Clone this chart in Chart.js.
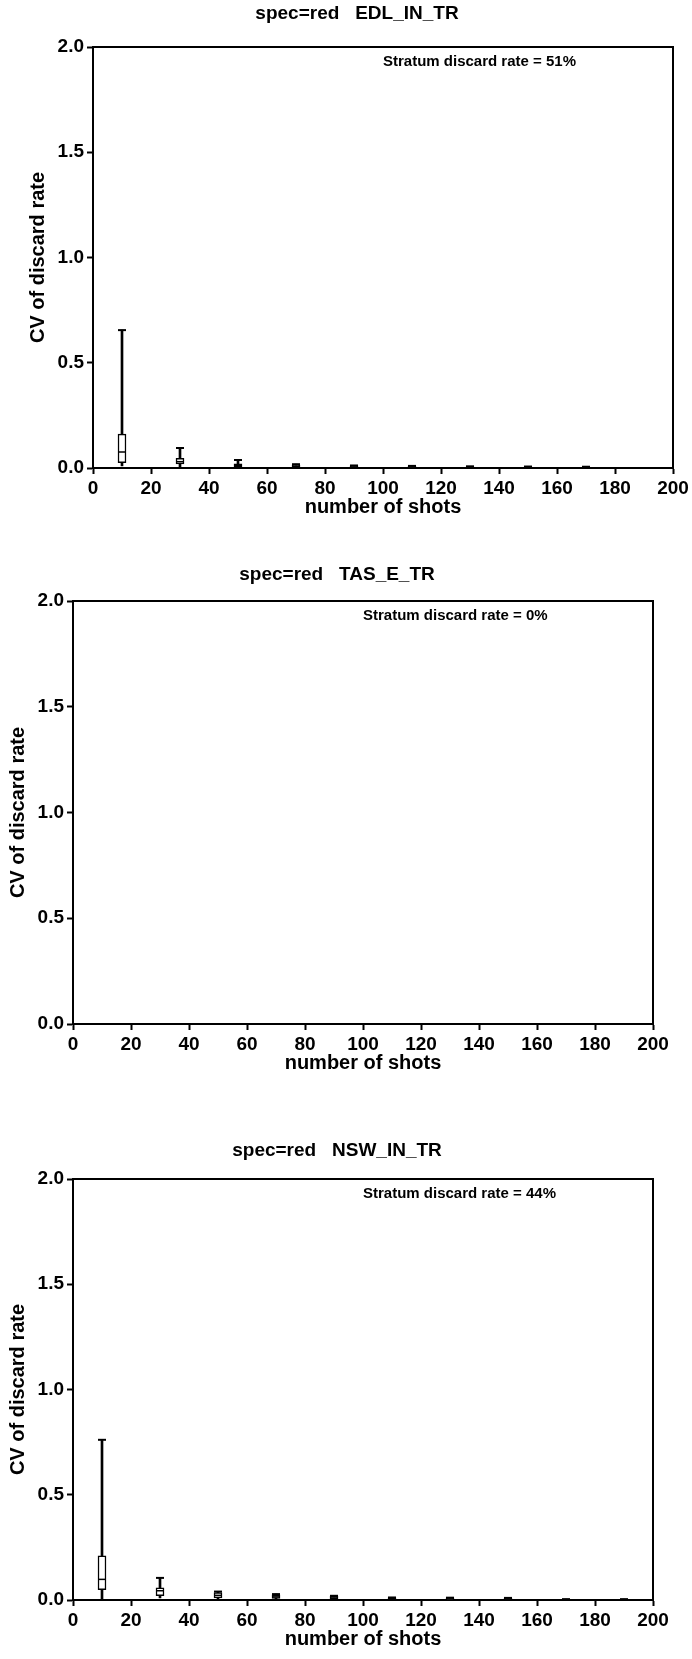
<!DOCTYPE html>
<html>
<head>
<meta charset="utf-8">
<title>CV of discard rate vs number of shots</title>
<script src="https://cdn.jsdelivr.net/npm/chart.js@4.4.1/dist/chart.umd.min.js"></script>
<style>
  html, body { margin: 0; padding: 0; background: #fff; }
  body { width: 692px; height: 1659px; position: relative; overflow: hidden; }
  .panel { position: absolute; left: 0; }
</style>
</head>
<body>
<canvas id="chartEDL" class="panel" width="692" height="530" style="top:0px"></canvas>
<canvas id="chartTAS" class="panel" width="692" height="540" style="top:540px"></canvas>
<canvas id="chartNSW" class="panel" width="692" height="539" style="top:1120px"></canvas>
<script>
// axis ticks shared by all three panels
const xTicks = [0, 20, 40, 60, 80, 100, 120, 140, 160, 180, 200];
const yTicks = [0, 0.5, 1.0, 1.5, 2.0];

// EDL_IN_TR: box plot summary of the CV per sample size
const edlShots  = [10, 30, 50, 70, 90, 110, 130, 150, 170];
const edlMin    = [0.010, 0.005, 0.000, 0.000, 0.000, 0.000, 0.000, 0.000, 0.000];
const edlQ1     = [0.025, 0.019, 0.005, 0.004, 0.002, 0.002, 0.001, 0.001, 0.001];
const edlMedian = [0.076, 0.030, 0.012, 0.008, 0.005, 0.004, 0.003, 0.002, 0.002];
const edlQ3     = [0.161, 0.046, 0.020, 0.014, 0.010, 0.008, 0.006, 0.005, 0.004];
const edlMax    = [0.655, 0.095, 0.038, 0.018, 0.012, 0.010, 0.008, 0.007, 0.006];
const edlRate   = 51;

// TAS_E_TR: no discards, CV collapses to zero
const tasShots  = [10];
const tasMin    = [0];
const tasQ1     = [0];
const tasMedian = [0];
const tasQ3     = [0];
const tasMax    = [0];
const tasRate   = 0;

// NSW_IN_TR
const nswShots  = [10, 30, 50, 70, 90, 110, 130, 150, 170, 190];
const nswMin    = [0.005, 0.010, 0.003, 0.002, 0.001, 0.001, 0.001, 0.000, 0.000, 0.000];
const nswQ1     = [0.049, 0.020, 0.010, 0.007, 0.004, 0.003, 0.002, 0.002, 0.001, 0.001];
const nswMedian = [0.098, 0.044, 0.022, 0.015, 0.010, 0.006, 0.005, 0.004, 0.002, 0.002];
const nswQ3     = [0.210, 0.058, 0.035, 0.025, 0.018, 0.010, 0.009, 0.008, 0.003, 0.003];
const nswMax    = [0.761, 0.105, 0.040, 0.028, 0.020, 0.012, 0.011, 0.010, 0.004, 0.004];
const nswRate   = 44;

// where the stratum note sits, in data units
const noteX = 100;
const noteY = 1.93;

const FONT = '"Liberation Sans", Arial, Helvetica, sans-serif';
Chart.defaults.font.family = FONT;
Chart.defaults.color = '#000';

// frame, panel heading and discard-rate note
const panelDecor = {
    id: 'panelDecor',
    afterDraw(chart, args, opts) {
        const { ctx, chartArea: a, scales } = chart;
        ctx.save();
        ctx.strokeStyle = '#000';
        ctx.lineWidth = 2;
        ctx.beginPath();
        ctx.moveTo(a.left - 1, a.top);
        ctx.lineTo(a.right, a.top);
        ctx.lineTo(a.right, a.bottom + 1);
        ctx.stroke();

        ctx.fillStyle = '#000';
        ctx.textBaseline = 'middle';
        ctx.font = 'bold 19px ' + FONT;
        ctx.textAlign = 'center';
        ctx.fillText(opts.heading, (a.left + a.right) / 2 - 26, opts.headingY);

        ctx.font = 'bold 15px ' + FONT;
        ctx.textAlign = 'left';
        ctx.fillText('Stratum discard rate = ' + opts.rate + '%',
            scales.x.getPixelForValue(noteX), scales.y.getPixelForValue(noteY));
        ctx.restore();
    }
};

function boxDatasets(shots, mins, q1s, medians, q3s, maxs) {
    const boxes = shots.map((s, i) => ({ x: s, y: [q1s[i], q3s[i]] }));
    const whiskers = shots.map((s, i) => ({ x: s, y: [mins[i], maxs[i]] }));
    const mids = shots.map((s, i) => ({ x: s, y: medians[i] }));
    const caps = shots.map((s, i) => ({ x: s, y: maxs[i] }));
    return [
        {
            type: 'bar', data: boxes, order: 1, grouped: false,
            backgroundColor: '#fff', borderColor: '#000', borderWidth: 1.5,
            borderSkipped: false, barThickness: 8, clip: false
        },
        {
            type: 'bar', data: whiskers, order: 2, grouped: false,
            backgroundColor: '#000', borderWidth: 0, barThickness: 2, clip: false
        },
        {
            type: 'scatter', data: mids, order: 0,
            pointStyle: 'line', pointRadius: 4, borderColor: '#000', borderWidth: 1.5, clip: false
        },
        {
            type: 'scatter', data: caps, order: 0,
            pointStyle: 'line', pointRadius: 4, borderColor: '#000', borderWidth: 2, clip: false
        }
    ];
}

function renderPanel(id, heading, headingY, rate, datasets, pad, yAxisWidth) {
    const tickFont = { size: 19, weight: 'bold' };
    const titleFont = { size: 20, weight: 'bold' };
    const axisGrid = {
        display: true, drawOnChartArea: false, drawTicks: true,
        tickLength: 6, tickWidth: 2, tickColor: '#000', offset: false
    };
    const axisBorder = { display: true, color: '#000', width: 2 };

    return new Chart(document.getElementById(id), {
        type: 'bar',
        data: { datasets: datasets },
        options: {
            responsive: false,
            animation: false,
            devicePixelRatio: 1,
            events: [],
            layout: { padding: pad },
            plugins: {
                legend: { display: false },
                tooltip: { enabled: false },
                panelDecor: { heading: heading, headingY: headingY, rate: rate }
            },
            scales: {
                x: {
                    type: 'linear', min: 0, max: 200, offset: false,
                    afterBuildTicks: s => { s.ticks = xTicks.map(v => ({ value: v })); },
                    afterFit: s => { s.height = 51; },
                    grid: axisGrid,
                    border: axisBorder,
                    ticks: { font: tickFont, padding: 3, maxRotation: 0, autoSkip: false },
                    title: { display: true, text: 'number of shots', font: titleFont, padding: 0 }
                },
                y: {
                    type: 'linear', min: 0, max: 2,
                    afterBuildTicks: s => { s.ticks = yTicks.map(v => ({ value: v })); },
                    afterFit: s => { s.width = yAxisWidth; },
                    grid: axisGrid,
                    border: axisBorder,
                    ticks: { font: tickFont, padding: 3, callback: v => v.toFixed(1) },
                    title: { display: true, text: 'CV of discard rate', font: titleFont, padding: 0 }
                }
            }
        },
        plugins: [panelDecor]
    });
}

renderPanel('chartEDL', 'spec=red   EDL_IN_TR', 14, edlRate,
    boxDatasets(edlShots, edlMin, edlQ1, edlMedian, edlQ3, edlMax),
    { top: 47, left: 26, right: 19, bottom: 11 }, 67);

renderPanel('chartTAS', 'spec=red   TAS_E_TR', 34.5, tasRate,
    boxDatasets(tasShots, tasMin, tasQ1, tasMedian, tasQ3, tasMax),
    { top: 61, left: 6, right: 39, bottom: 5 }, 67);

renderPanel('chartNSW', 'spec=red   NSW_IN_TR', 31, nswRate,
    boxDatasets(nswShots, nswMin, nswQ1, nswMedian, nswQ3, nswMax),
    { top: 59, left: 6, right: 39, bottom: 8 }, 67);
</script>
</body>
</html>
